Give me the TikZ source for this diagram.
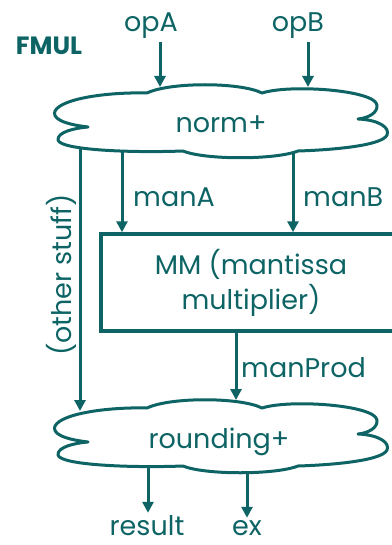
\documentclass[tikz,border=0pt]{standalone}
\usepackage{fontspec}
\setmainfont{Poppins}
\usetikzlibrary{arrows.meta}
\definecolor{deepteal}{RGB}{14,100,100}

% outline of a cloud, drawn around the point (221,121)
\newcommand{\cloudoutline}{%
  (88,127) .. controls (62,124) and (52,118) .. (55,111)
  .. controls (62,98) and (110,92) .. (147,93)
  .. controls (170,82) and (240,82) .. (262,93)
  .. controls (290,84) and (375,90) .. (377,105)
  .. controls (378,113) and (368,118) .. (358,119)
  .. controls (380,120) and (390,128) .. (387,135)
  .. controls (382,146) and (330,150) .. (298,151)
  .. controls (275,160) and (205,160) .. (183,151)
  .. controls (130,153) and (60,150) .. (58,140)
  .. controls (57,132) and (75,128) .. (88,127) -- cycle}

\begin{document}
\begin{tikzpicture}[x=1pt,y=-1pt,
  every node/.style={text=deepteal, inner sep=0pt, font=\fontsize{27}{35}\selectfont},
  lbl/.style={anchor=base},
  wire/.style={draw=deepteal, line width=3pt},
  arr/.style={wire, -{Triangle[length=11pt,width=11pt]}},
  cloudline/.style={draw=deepteal, line width=3pt, fill=white, line join=round},
  mmbox/.style={draw=deepteal, line width=3.5pt, minimum width=300pt,
                minimum height=97pt, align=center}]
\useasboundingbox (0,0) rectangle (391,545);

% the two clouds
\path[cloudline] \cloudoutline;
\path[cloudline, yshift=-315pt] \cloudoutline;

% text
\node[lbl, font=\bfseries\fontsize{25}{30}\selectfont] (title) at (49,55) {FMUL};
\node[lbl, outer sep=3pt] (opA) at (151,32) {opA};
\node[lbl, outer sep=3pt] (opB) at (298,32) {opB};
\node[lbl] (norm) at (221,133) {norm+};
\node[lbl, anchor=base west] (manA) at (133,206) {manA};
\node[lbl, anchor=base west] (manB) at (303,206) {manB};
\node[mmbox] (mm) at (251,282.5) {MM (mantissa\\multiplier)};
\node[anchor=base, rotate=90] (other) at (71,275) {(other stuff)};
\node[lbl, anchor=base west] (manProd) at (241,377) {manProd};
\node[lbl] (round) at (219,448) {rounding+};
\node[lbl] (result) at (147,535) {result};
\node[lbl] (ex) at (247,535) {ex};

% ports on the cloud outlines
\coordinate (inA) at (160,87);
\coordinate (inB) at (308,87);
\coordinate (outOther) at (80,147);
\coordinate (outA) at (122,151);
\coordinate (outB) at (293,151);
\coordinate (inOther) at (80,411);
\coordinate (inProd) at (236,400);
\coordinate (outRes) at (148,466);
\coordinate (outEx) at (247,471);

% connectors
\draw[arr] (inA |- opA.south) -- (inA);
\draw[arr] (inB |- opB.south) -- (inB);
\draw[arr] (outA) -- (outA |- mm.north);
\draw[arr] (outB) -- (outB |- mm.north);
\draw[arr] (outOther) -- (inOther);
\draw[arr] (inProd |- mm.south) -- (inProd);
\draw[arr, shorten >=2pt] (outRes) -- (outRes |- result.north);
\draw[arr, shorten >=2pt] (outEx) -- (outEx |- ex.north);
\end{tikzpicture}
\end{document}
